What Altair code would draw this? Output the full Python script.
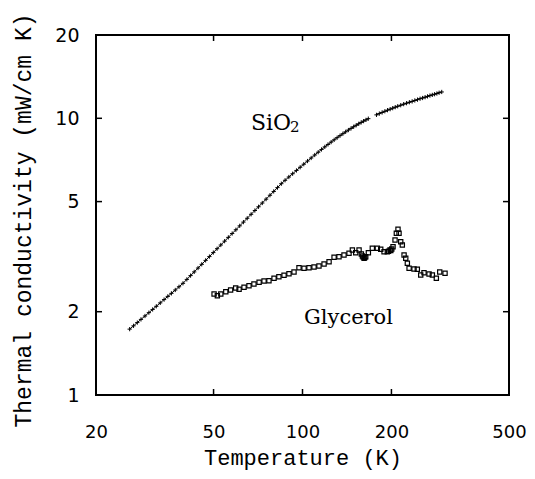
import altair as alt
import pandas as pd

# SiO2 thermal conductivity (T in K, k in mW/cm K)
sio2_T = [26, 26.8, 27.6, 28.4, 29.3, 30.2, 31.1, 32.0, 33.0, 34.0,
          35.0, 36.0, 37.1, 38.2, 39.4, 40.6, 41.8, 43.0, 44.3, 45.6,
          47.0, 48.4, 49.9, 51.4, 52.9, 54.5, 56.1, 57.8, 59.5, 61.3,
          63.1, 65.0, 67.0, 69.0, 71.0, 73.1, 75.3, 77.6, 79.9, 82.3,
          84.8, 87.3, 89.9, 92.6, 95.4, 98.2, 101, 104, 107, 110,
          113, 116, 119, 122, 125, 128, 131, 134, 137, 140,
          143, 146, 149, 152, 155, 158, 161, 164, 167, 178,
          182, 186, 190, 194, 198, 202, 206, 210, 215, 220,
          225, 230, 235, 240, 245, 250, 255, 260, 265, 270,
          275, 280, 285, 290, 296]
sio2_k = [1.730, 1.778, 1.827, 1.876, 1.930, 1.984, 2.038, 2.092, 2.152, 2.212,
          2.272, 2.330, 2.396, 2.461, 2.533, 2.617, 2.701, 2.785, 2.876, 2.967,
          3.066, 3.164, 3.271, 3.378, 3.484, 3.597, 3.712, 3.833, 3.955, 4.086,
          4.215, 4.352, 4.498, 4.642, 4.789, 4.941, 5.103, 5.271, 5.440, 5.617,
          5.803, 5.970, 6.135, 6.305, 6.479, 6.653, 6.825, 7.006, 7.187, 7.367,
          7.542, 7.716, 7.882, 8.045, 8.204, 8.359, 8.509, 8.655, 8.796, 8.935,
          9.068, 9.196, 9.320, 9.439, 9.552, 9.665, 9.768, 9.869, 9.968, 10.29,
          10.40, 10.50, 10.60, 10.70, 10.79, 10.88, 10.97, 11.05, 11.15, 11.25,
          11.34, 11.43, 11.51, 11.60, 11.68, 11.77, 11.84, 11.92, 12.00, 12.08,
          12.15, 12.22, 12.29, 12.37, 12.45]

# Glycerol
gly_T = [50.2, 51.5, 52.9, 55.0, 57.1, 59.4, 61.0, 63.4, 65.9, 68.5,
         71.3, 74.1, 77.0, 80.1, 83.2, 86.6, 90.0, 93.6, 97.3, 101.2,
         105.2, 109.4, 113.7, 118.3, 123.0, 127.9, 132.9, 138.2, 143.7, 147.5,
         151.4, 155.4, 158.2, 159.5, 160.5, 161.6, 162.5, 163.7, 167.1, 172.3,
         179.2, 184.0, 188.8, 193.7, 195.5, 197.8, 199.0, 200.5, 202.5, 205.7,
         207.8, 210.5, 212.2, 215.0, 217.7, 220.7, 223.6, 226.4, 229.5, 238.5,
         244.7, 251.3, 257.8, 268.1, 275.1, 283.8, 291.4, 303.7]
gly_k = [2.317, 2.285, 2.317, 2.362, 2.396, 2.436, 2.410, 2.450, 2.483, 2.519,
         2.555, 2.582, 2.589, 2.641, 2.676, 2.708, 2.744, 2.783, 2.885, 2.870,
         2.885, 2.902, 2.926, 2.975, 3.032, 3.146, 3.162, 3.206, 3.252, 3.342,
         3.268, 3.342, 3.233, 3.18, 3.15, 3.119, 3.14, 3.162, 3.268, 3.390,
         3.390, 3.362, 3.295, 3.295, 3.31, 3.342, 3.33, 3.37, 3.436, 3.633,
         3.841, 3.971, 3.841, 3.581, 3.484, 3.206, 3.119, 2.992, 2.870, 2.853,
         2.846, 2.715, 2.767, 2.737, 2.715, 2.641, 2.783, 2.754]

x_tick_values = [20, 50, 100, 200, 500]
y_tick_values = [1, 2, 5, 10, 20]
x_inner_ticks = [50, 100, 200]
y_inner_ticks = [2, 5, 10]

# annotation texts and anchor positions (data coordinates)
sio_text, sio_sub = "SiO", "2"
sio_T, sio_k = 66.9, 9.07
gly_text = "Glycerol"
gly_lab_T, gly_lab_k = 101.2, 1.806

W, H = 413, 360

sio2 = pd.DataFrame({"T": sio2_T, "k": sio2_k})
sio2["seg"] = (sio2["T"] > 170).astype(int)
gly = pd.DataFrame({"T": gly_T, "k": gly_k})

x_scale = alt.Scale(type="log", domain=[20, 500], nice=False)
y_scale = alt.Scale(type="log", domain=[1, 20], nice=False)

x_axis = alt.Axis(values=x_tick_values, format="d", title="Temperature (K)",
                  grid=False, domain=False, ticks=False, labelPadding=28,
                  labelFont="DejaVu Sans", labelFontSize=18, labelColor="black",
                  labelFlush=False, labelOverlap=False,
                  titleFont="Liberation Mono", titleFontSize=22, titleFontWeight="normal",
                  titleColor="black", titleY=69, titleX=W / 2, titleBaseline="alphabetic",
                  titleAlign="center")
y_axis = alt.Axis(values=y_tick_values, format="d", title="Thermal conductivity (mW/cm K)",
                  grid=False, domain=False, ticks=False, labelPadding=17,
                  labelFont="DejaVu Sans", labelFontSize=19, labelColor="black",
                  labelFlush=False, labelOverlap=False,
                  titleFont="Liberation Mono", titleFontSize=23, titleFontWeight="normal",
                  titleColor="black", titleAngle=270, titleX=-73, titleY=185,
                  titleBaseline="middle", titleAlign="center")

X = alt.X("T:Q", scale=x_scale, axis=x_axis)
Y = alt.Y("k:Q", scale=y_scale, axis=y_axis)

sio2_line = alt.Chart(sio2).mark_line(color="black", strokeWidth=1).encode(
    x=X, y=Y, detail="seg:N")
sio2_pts = alt.Chart(sio2).mark_point(
    shape="M-1,0L1,0M0,-1L0,1", size=18, filled=False, color="black",
    strokeWidth=1, opacity=1).encode(x=X, y=Y)
gly_pts = alt.Chart(gly).mark_point(
    shape="square", size=18, filled=False, color="black",
    strokeWidth=1.2, opacity=1).encode(x=X, y=Y)

sio_df = pd.DataFrame({"T": [sio_T], "k": [sio_k], "text": [sio_text], "sub": [sio_sub]})
gly_df = pd.DataFrame({"T": [gly_lab_T], "k": [gly_lab_k], "text": [gly_text]})
sio_label = alt.Chart(sio_df).mark_text(
    align="left", baseline="alphabetic", font="DejaVu Serif", fontSize=22,
    color="black").encode(x=X, y=Y, text="text:N")
sio_subl = alt.Chart(sio_df).mark_text(
    align="left", baseline="alphabetic", font="DejaVu Serif", fontSize=15,
    color="black", dx=39, dy=2).encode(x=X, y=Y, text="sub:N")
gly_label = alt.Chart(gly_df).mark_text(
    align="left", baseline="alphabetic", font="DejaVu Serif", fontSize=21,
    color="black").encode(x=X, y=Y, text="text:N")

xt = pd.DataFrame({"T": x_inner_ticks})
yt = pd.DataFrame({"k": y_inner_ticks})
tick_style = dict(color="black", strokeWidth=1.5)
bottom_ticks = alt.Chart(xt).mark_rule(**tick_style).encode(
    x=X, y=alt.value(H), y2=alt.value(H - 6))
top_ticks = alt.Chart(xt).mark_rule(**tick_style).encode(
    x=X, y=alt.value(0), y2=alt.value(6))
left_ticks = alt.Chart(yt).mark_rule(**tick_style).encode(
    y=Y, x=alt.value(0), x2=alt.value(6))
right_ticks = alt.Chart(yt).mark_rule(**tick_style).encode(
    y=Y, x=alt.value(W), x2=alt.value(W - 6))

chart = alt.layer(
    sio2_line, sio2_pts, gly_pts, sio_label, sio_subl, gly_label,
    bottom_ticks, top_ticks, left_ticks, right_ticks
).properties(
    width=W, height=H,
    autosize=alt.AutoSizeParams(type="none"),
    padding={"left": 88, "top": 27, "right": 18, "bottom": 76},
).configure(
    background="white",
    view=alt.ViewConfig(stroke="black", strokeWidth=2),
)

chart.save("out.html", embed_options={"renderer": "svg", "actions": False})
